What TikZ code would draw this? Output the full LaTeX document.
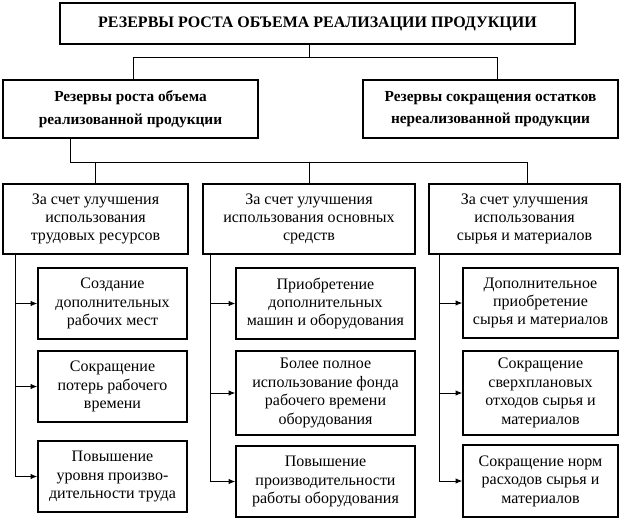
\documentclass[tikz,border=0pt]{standalone}
\usepackage{fontspec}
\setmainfont{Liberation Serif}
\usetikzlibrary{positioning,arrows.meta}

\begin{document}
\begin{tikzpicture}[x=0.75pt,y=-0.75pt,
  box/.style={draw,line width=1.1pt,inner sep=0pt,align=center,font=\fontsize{12}{13.8}\selectfont},
  head/.style={box,font=\fontsize{11.5}{17}\bfseries\selectfont},
  link/.style={line width=0.6pt},
  arr/.style={link,-{Latex[length=5pt,width=4pt]}}]
\useasboundingbox (0,0) rectangle (623,520);
% levels 1 and 2
\node[box,font=\fontsize{12}{14}\bfseries\selectfont,minimum width=386.25pt,minimum height=30.75pt] (top) at (317.5,23.5) {РЕЗЕРВЫ РОСТА ОБЪЕМА РЕАЛИЗАЦИИ ПРОДУКЦИИ};
\node[head,minimum width=191.25pt,minimum height=43.5pt] (l2a) at (130.5,109) {Резервы роста объема\\реализованной продукции};
\node[head,minimum width=191.25pt,minimum height=43.5pt] (l2b) at (490.5,109) {Резервы сокращения остатков\\нереализованной продукции};
% level 3
\node[box,minimum width=138.75pt,minimum height=52.5pt] (l3a) at (95.5,219) {За счет улучшения\\использования\\трудовых ресурсов};
\node[box,minimum width=159pt,minimum height=52.5pt] (l3b) at (309,219) {За счет улучшения\\использования основных\\средств};
\node[box,minimum width=143.25pt,minimum height=52.5pt] (l3c) at (524.5,219) {За счет улучшения\\использования\\сырья и материалов};
% level 4
\node[box,minimum width=111.75pt,minimum height=53.25pt] (a1) at (112.5,303.5) {Создание\\дополнительных\\рабочих мест};
\node[box,minimum width=111.75pt,minimum height=53.25pt] (a2) at (112.5,386.5) {Сокращение\\потерь рабочего\\времени};
\node[box,minimum width=111.75pt,minimum height=53.25pt] (a3) at (112.5,476.5) {Повышение\\уровня произво-\\дительности труда};
\node[box,minimum width=134.25pt,minimum height=53.25pt] (b1) at (325.5,303.5) {Приобретение\\дополнительных\\машин и оборудования};
\node[box,minimum width=134.25pt,minimum height=63pt] (b2) at (325.5,393) {Более полное\\использование фонда\\рабочего времени\\оборудования};
\node[box,minimum width=134.25pt,minimum height=53.25pt] (b3) at (325.5,481.5) {Повышение\\производительности\\работы оборудования};
\node[box,minimum width=116.25pt,minimum height=52.5pt] (c1) at (540.5,303) {Дополнительное\\приобретение\\сырья и материалов};
\node[box,minimum width=116.25pt,minimum height=63pt] (c2) at (540.5,393) {Сокращение\\сверхплановых\\отходов сырья и\\материалов};
\node[box,minimum width=116.25pt,minimum height=54pt] (c3) at (540.5,481) {Сокращение норм\\расходов сырья и\\материалов};
% connectors
\coordinate (topL) at (133,57);
\coordinate (topR) at (497,57);
\draw[link] (top.south -| l3b) |- (topL) -- (topL |- l2a.north);
\draw[link] (top.south -| l3b) |- (topR) -- (topR |- l2b.north);
\coordinate (busL) at (70,162);
\coordinate (busR) at (527,162);
\draw[link] (busL |- l2a.south) -- (busL) -- (busR) -- (busR |- l3c.north);
\draw[link] (busL -| l3a.north) -- (l3a.north);
\draw[link] (busL -| l3b.north) -- (l3b.north);
\coordinate (sideA) at (15,0);
\coordinate (sideB) at (210,0);
\coordinate (sideC) at (439,0);
\foreach \n in {a1,a2,a3} \draw[arr] (l3a.south -| sideA) |- (\n.west);
\foreach \n in {b1,b2,b3} \draw[arr] (l3b.south -| sideB) |- (\n.west);
\foreach \n in {c1,c2,c3} \draw[arr] (l3c.south -| sideC) |- (\n.west);
\end{tikzpicture}
\end{document}
